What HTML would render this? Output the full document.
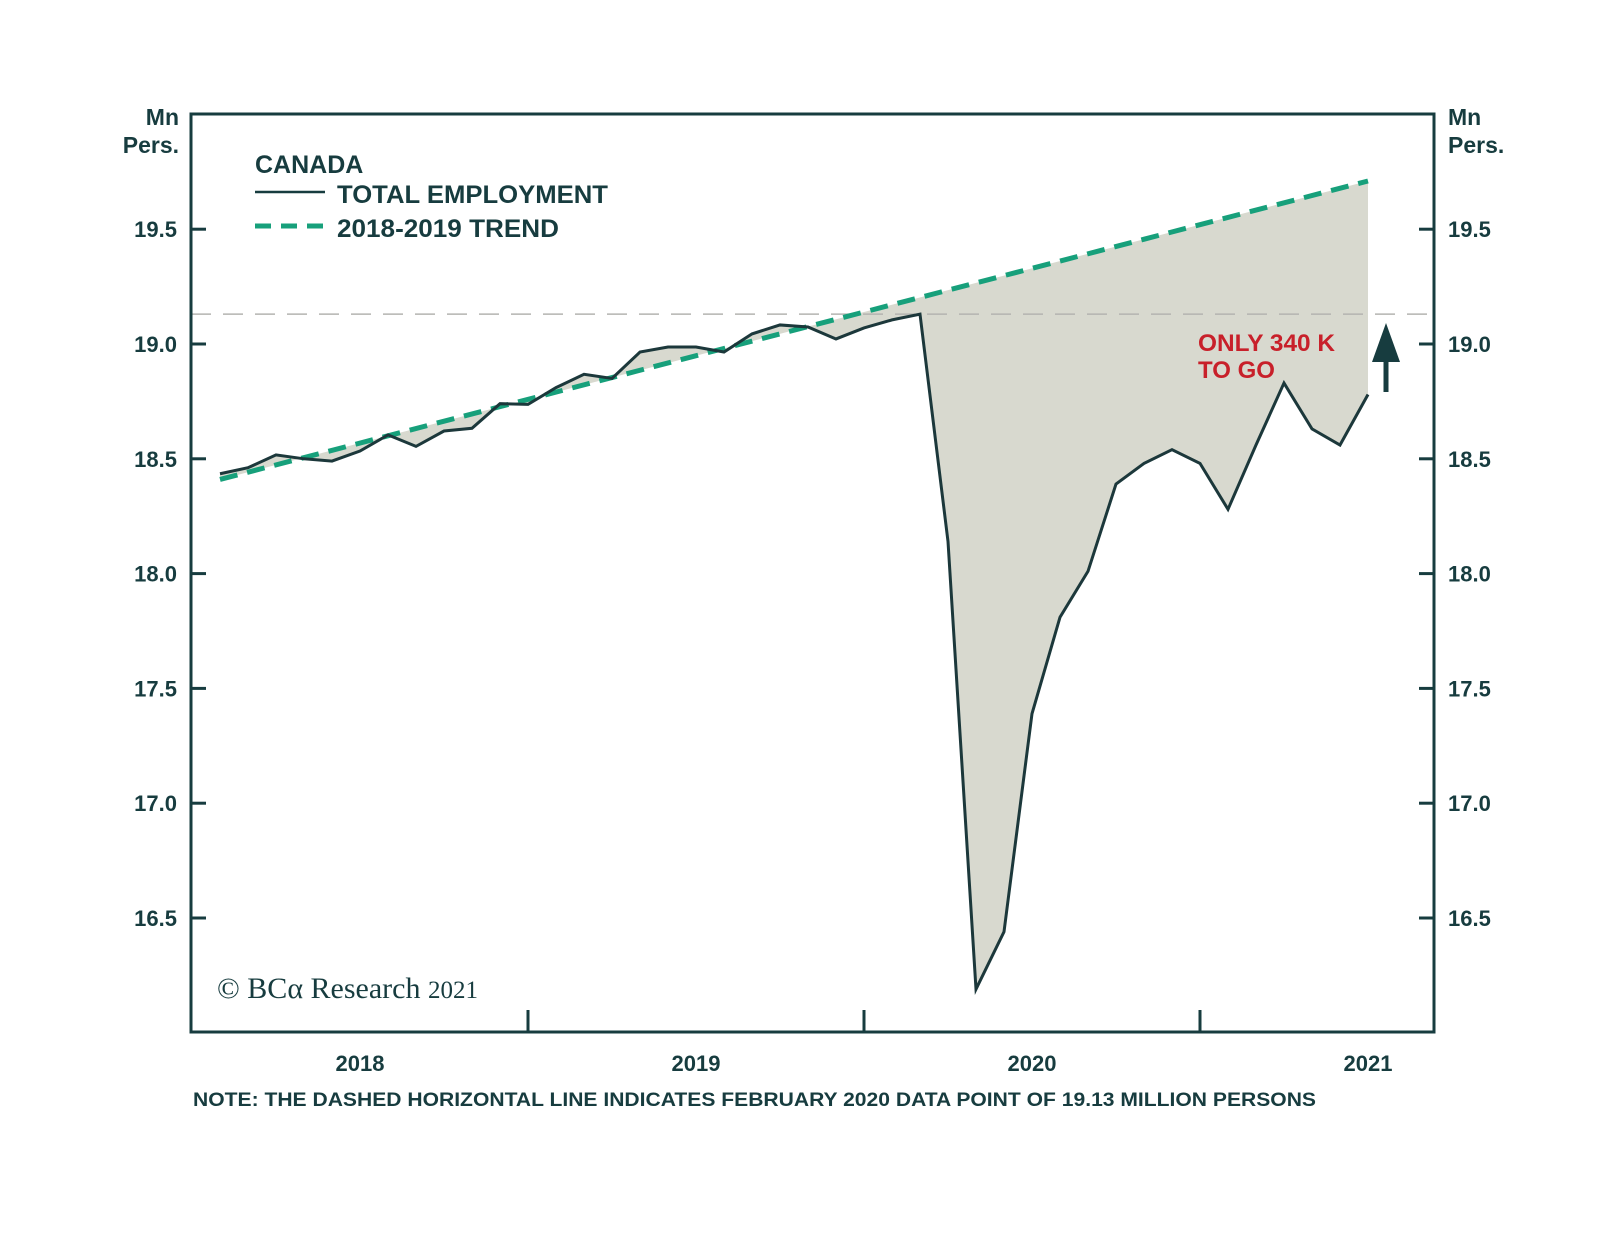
<!DOCTYPE html>
<html><head><meta charset="utf-8"><style>
html,body{margin:0;padding:0;background:#fff;}
svg{display:block;}
text{font-family:"Liberation Sans",sans-serif;font-weight:bold;fill:#173c3f;}
</style></head><body>
<svg id="chart" width="1600" height="1244" viewBox="0 0 1600 1244">
<rect x="0" y="0" width="1600" height="1244" fill="#fff"/>
<g id="plot"></g>
<g id="axes"></g>
<text x="179" y="125" text-anchor="end" font-size="23">Mn</text>
<text x="179" y="153" text-anchor="end" font-size="23">Pers.</text>
<text x="1448" y="125" font-size="23">Mn</text>
<text x="1448" y="153" font-size="23">Pers.</text>
<g>
<text x="255" y="173" font-size="25">CANADA</text>
<line x1="255" y1="192" x2="325" y2="192" stroke="#173c3f" stroke-width="2.5"/>
<text x="337" y="203" font-size="25" textLength="271" lengthAdjust="spacingAndGlyphs">TOTAL EMPLOYMENT</text>
<line x1="255" y1="226" x2="325" y2="226" stroke="#17a07b" stroke-width="5" stroke-dasharray="16,10"/>
<text x="337" y="237" font-size="25" textLength="222" lengthAdjust="spacingAndGlyphs">2018-2019 TREND</text>
</g>
<text x="1198" y="351" font-size="24" textLength="137" lengthAdjust="spacingAndGlyphs" style="fill:#c8202a">ONLY 340 K</text>
<text x="1198" y="378" font-size="24" style="fill:#c8202a">TO GO</text>
<g>
<line x1="1386" y1="350" x2="1386" y2="392" stroke="#173c3f" stroke-width="5"/>
<polygon points="1386,323 1372,362 1400,362" fill="#173c3f"/>
</g>
<text x="217" y="998" font-size="30" style="font-family:'Liberation Serif',serif;font-weight:normal">© BCα Research <tspan font-size="25">2021</tspan></text>
<text x="193" y="1106" font-size="19.5" textLength="1123" lengthAdjust="spacingAndGlyphs">NOTE: THE DASHED HORIZONTAL LINE INDICATES FEBRUARY 2020 DATA POINT OF 19.13 MILLION PERSONS</text>
</svg>
<script>
const months = ["Jan18","Feb18","Mar18","Apr18","May18","Jun18","Jul18","Aug18","Sep18","Oct18","Nov18","Dec18","Jan19","Feb19","Mar19","Apr19","May19","Jun19","Jul19","Aug19","Sep19","Oct19","Nov19","Dec19","Jan20","Feb20","Mar20","Apr20","May20","Jun20","Jul20","Aug20","Sep20","Oct20","Nov20","Dec20","Jan21","Feb21","Mar21","Apr21","May21","Jun21"];
const totalEmployment = [18.435,18.461,18.517,18.50,18.49,18.534,18.604,18.554,18.621,18.633,18.74,18.737,18.81,18.868,18.85,18.965,18.987,18.987,18.965,19.044,19.083,19.074,19.022,19.07,19.105,19.13,18.14,16.19,16.44,17.39,17.81,18.01,18.39,18.48,18.54,18.48,18.28,18.56,18.83,18.63,18.56,18.78];
const trendIdx = [0,41];
const trendVals = [18.41,19.71];
const refLevel = 19.13;
const yTicks = [16.5,17.0,17.5,18.0,18.5,19.0,19.5];
const yTickLabels = ["16.5","17.0","17.5","18.0","18.5","19.0","19.5"];
const yearLabels = ["2018","2019","2020","2021"];
const yearLabelPos = [5,17,29,41];
const yearTickPos = [11,23,35];

const L=191,R=1434,T=114,B=1032;
function x(i){return 220+(i-0)*(1368-220)/41;}
function y(v){return 344-(v-19)*229.6;}
const NS="http://www.w3.org/2000/svg";
const plot=document.getElementById('plot'), axes=document.getElementById('axes');
function mk(tag,attrs,parent){const e=document.createElementNS(NS,tag);for(const k in attrs)e.setAttribute(k,attrs[k]);parent.appendChild(e);return e;}

let pts=totalEmployment.map((v,i)=>x(i)+","+y(v));
pts.push(x(trendIdx[1])+","+y(trendVals[1]));
pts.push(x(trendIdx[0])+","+y(trendVals[0]));
const fill=mk('polygon',{points:pts.join(' '),fill:'#d8d9cf'},plot);



const ref=mk('line',{x1:L,x2:R,y1:y(refLevel),y2:y(refLevel),stroke:'#b4b4b0','stroke-width':1.5,'stroke-dasharray':'20,12'},plot);



const tr=mk('line',{x1:x(trendIdx[0]),y1:y(trendVals[0]),x2:x(trendIdx[1]),y2:y(trendVals[1]),stroke:'#17a07b','stroke-width':5,'stroke-dasharray':'18,10'},plot);



const tl=mk('polyline',{points:totalEmployment.map((v,i)=>x(i)+","+y(v)).join(' '),fill:'none',stroke:'#1c383b','stroke-width':3,'stroke-linejoin':'miter'},plot);



const fr=mk('rect',{x:L,y:T,width:R-L,height:B-T,fill:'none',stroke:'#173c3f','stroke-width':3},axes);



yTicks.forEach((v,k)=>{
  const a=mk('line',{x1:L,x2:L+15,y1:y(v),y2:y(v),stroke:'#173c3f','stroke-width':3},axes);
  
  
  const b=mk('line',{x1:R-15,x2:R,y1:y(v),y2:y(v),stroke:'#173c3f','stroke-width':3},axes);
  
  
  const t1=mk('text',{x:177,y:y(v)+8,'text-anchor':'end','font-size':22},axes);
  t1.textContent=yTickLabels[k];
  
  
  const t2=mk('text',{x:1448,y:y(v)+8,'font-size':22},axes);
  t2.textContent=yTickLabels[k];
  
  
});
yearTickPos.forEach(p=>{
  const t=mk('line',{x1:x(p),x2:x(p),y1:B-22,y2:B,stroke:'#173c3f','stroke-width':3},axes);
  
  
});
yearLabels.forEach((s,k)=>{
  const t=mk('text',{x:x(yearLabelPos[k]),y:1071,'text-anchor':'middle','font-size':22},axes);
  t.textContent=s;
  
  
});
</script>
</body></html>
